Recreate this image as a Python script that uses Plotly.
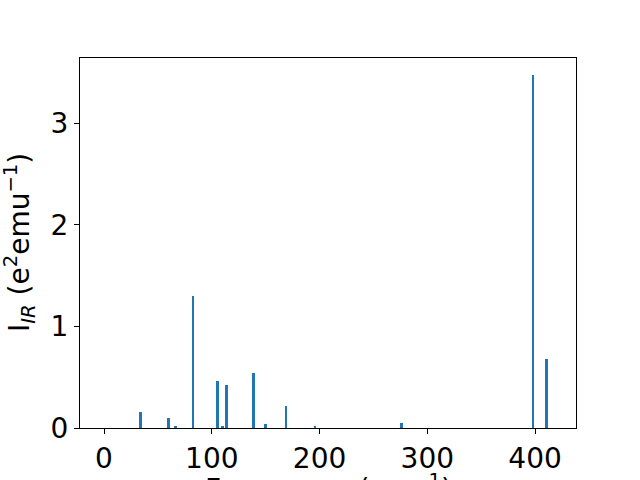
import plotly.graph_objects as go

freqs = [34, 60, 66.5, 82.7, 105.3, 110, 113.6, 138.6, 150, 169, 196, 276, 397.9, 410.6]
intensities = [0.155, 0.10, 0.02, 1.30, 0.46, 0.02, 0.42, 0.54, 0.04, 0.22, 0.015, 0.045, 3.47, 0.68]

fig = go.Figure(go.Bar(x=freqs, y=intensities, width=2.3, marker=dict(color="#1f77b4", line=dict(width=0))))

font = dict(family="DejaVu Sans", size=28, color="black")
fig.update_layout(
    width=640, height=480,
    margin=dict(l=80, r=64, t=58, b=52, autoexpand=False),
    plot_bgcolor="white", paper_bgcolor="white",
    showlegend=False, bargap=0,
    font=font,
    xaxis=dict(range=[-22.3, 438], tickvals=[0, 100, 200, 300, 400], showgrid=False, zeroline=False,
               showline=True, linecolor="black", linewidth=1, mirror=True, automargin=False,
               ticks="outside", ticklen=5, tickcolor="black", tickfont=font),
    yaxis=dict(range=[0, 3.64], tickvals=[0, 1, 2, 3], showgrid=False, zeroline=False,
               showline=True, linecolor="black", linewidth=1, mirror=True, automargin=False,
               ticks="outside", ticklen=5, tickcolor="black", tickfont=font),
    annotations=[
        dict(text="Frequency (cm<sup>−1</sup>)", xref="paper", yref="paper", x=0.5, y=-0.11,
             xanchor="center", yanchor="top", showarrow=False, font=font, yshift=2),
        dict(text="I<sub><i>IR</i></sub> (e<sup>2</sup>emu<sup>−1</sup>)", xref="paper", yref="paper",
             x=-0.135, y=0.5, xanchor="center", yanchor="middle", textangle=-90, showarrow=False,
             font=font, xshift=6),
    ],
)
fig.write_html("out.html", config={"displayModeBar": False},
               post_script="document.body.style.margin='0';document.body.style.overflow='hidden';")
